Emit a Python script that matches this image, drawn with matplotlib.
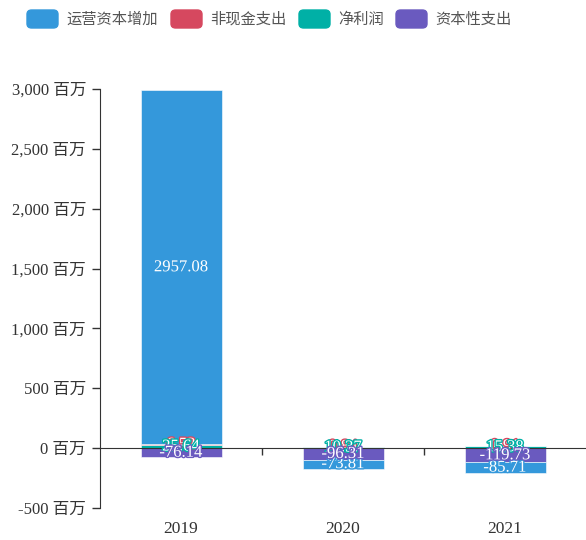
import numpy as np
import matplotlib.pyplot as plt
import matplotlib.patheffects as pe
from matplotlib.patches import FancyBboxPatch
from matplotlib.ticker import FuncFormatter

# chart data (millions)
years = ['2019', '2020', '2021']
series_names = ['运营资本增加', '非现金支出', '净利润', '资本性支出']
colors = ['#3498db', '#d6485f', '#00b0a6', '#6a5abf']

working_capital = [2957.08, -73.81, -85.71]
non_cash = [6.52, 0.84, 0.91]
net_profit = [25.64, 10.37, 15.38]
capex = [-76.14, -96.31, -119.73]

# stacking order used on the bars; last item is the label draw order (legend order)
stack_order = [
    (net_profit, colors[2], 2),
    (non_cash, colors[1], 1),
    (capex, colors[3], 3),
    (working_capital, colors[0], 0),
]

num_font = ['Liberation Serif', 'Noto Sans CJK SC']
plt.rcParams['font.family'] = ['Noto Sans CJK SC', 'DejaVu Sans']

fig = plt.figure(figsize=(5.86, 5.40), dpi=100)
ax = fig.add_axes([100 / 586, 32 / 540, 486 / 586, 419 / 540])

x = np.arange(len(years))
pos = np.zeros(len(years))
neg = np.zeros(len(years))
for vals, col, order in stack_order:
    vals = np.array(vals)
    bottom = np.where(vals >= 0, pos, neg)
    ax.bar(x, vals, width=0.5, bottom=bottom, color=col,
           edgecolor='#ffffff', linewidth=0.4, zorder=2)
    for xi, b, v in zip(x, bottom, vals):
        ax.text(xi, b + v / 2, '{:.2f}'.format(v), ha='center', va='center',
                color='white', fontsize=12, family=num_font, zorder=4 + order,
                path_effects=[pe.withStroke(linewidth=2, foreground=col)])
    pos = pos + np.where(vals >= 0, vals, 0)
    neg = neg + np.where(vals < 0, vals, 0)

ax.set_xlim(-0.5, len(years) - 0.5)
ax.set_ylim(-500, 3000)
ax.set_yticks(np.arange(-500, 3001, 500))
ax.yaxis.set_major_formatter(FuncFormatter(lambda v, p: '{:,.0f} 百万'.format(v)))
for lab in ax.get_yticklabels():
    lab.set_family(num_font)
ax.tick_params(axis='y', length=6, width=1, color='#333333',
               labelcolor='#333333', labelsize=12, pad=4)

# category axis sits on zero
for s in ['top', 'right']:
    ax.spines[s].set_visible(False)
ax.spines['left'].set_color('#333333')
ax.spines['bottom'].set_position(('data', 0))
ax.spines['bottom'].set_color('#333333')
ax.set_xticks([0.5, 1.5])
ax.set_xticklabels([])
ax.tick_params(axis='x', length=5, width=1, color='#333333')
for xi, yr in zip(x, years):
    ax.annotate(yr, (xi, -500), xytext=(0, -15), textcoords='offset points',
                ha='center', va='center', fontsize=12.5, color='#333333',
                family=num_font, annotation_clip=False)

# legend along the top
sw_x = [27, 171, 299, 396]
for sx, name, col in zip(sw_x, series_names, colors):
    fig.add_artist(FancyBboxPatch((sx / 586, 1 - 28 / 540), 31 / 586, 18 / 540,
                                  boxstyle='round,pad=0,rounding_size=0.008',
                                  transform=fig.transFigure, color=col))
    fig.text((sx + 39) / 586, 1 - 19 / 540, name, ha='left', va='center',
             fontsize=11, color='#555555')

fig.savefig('out.png', dpi=100)
